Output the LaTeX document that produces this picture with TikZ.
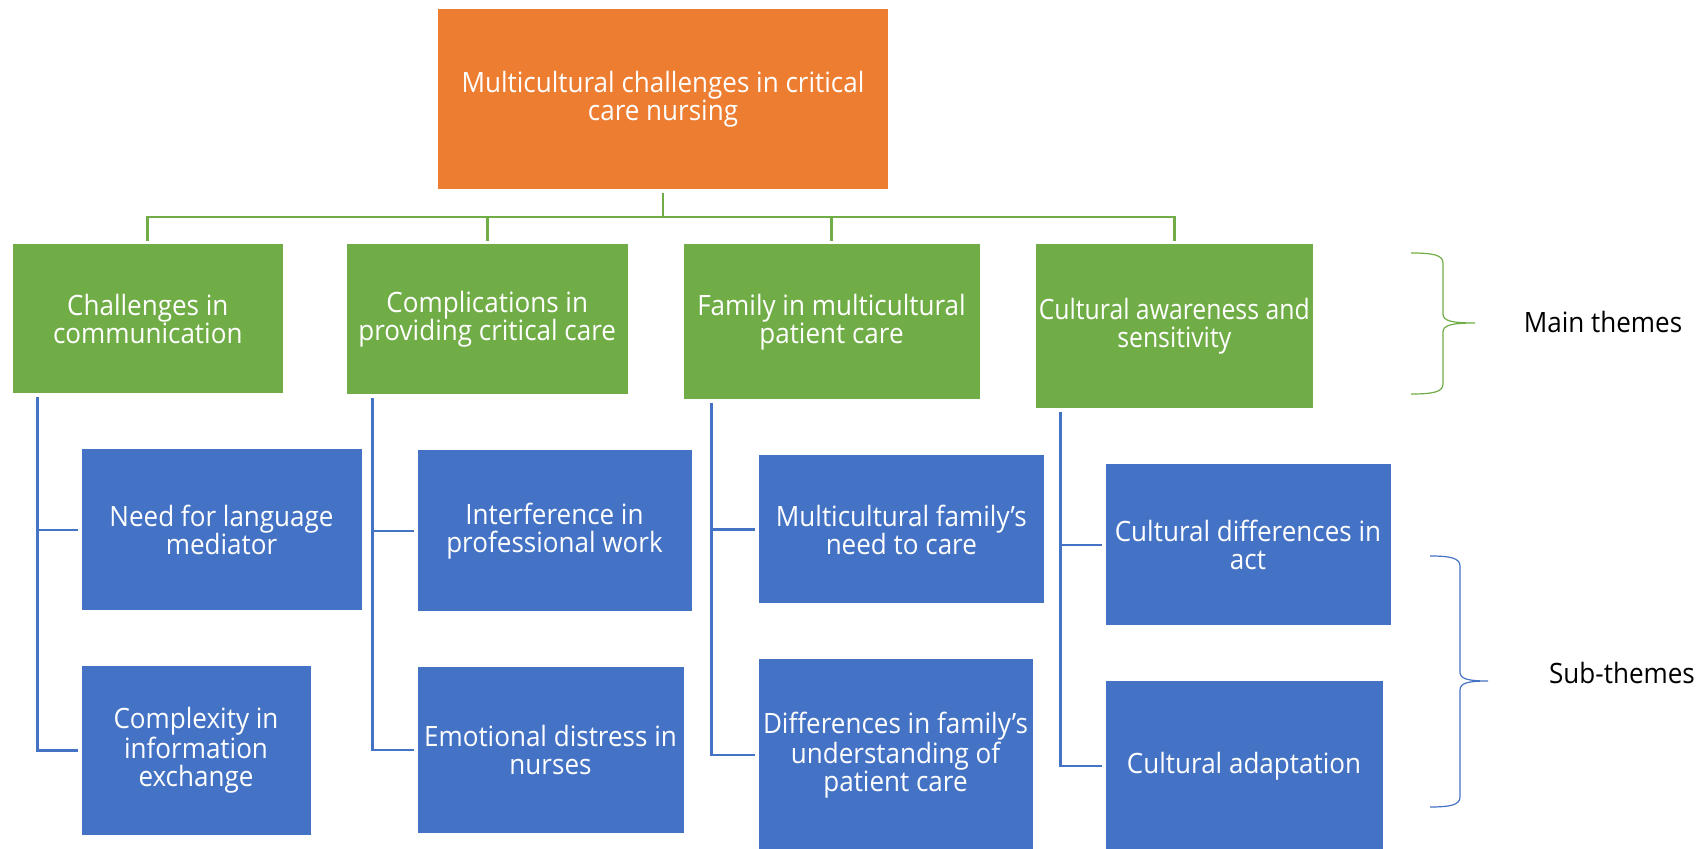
\documentclass[tikz,border=0pt]{standalone}
\usepackage{fontspec}
\setmainfont{Open Sans}[FakeStretch=0.93]
\newfontfamily\narrowsans{Open Sans}[FakeStretch=0.885]
\definecolor{topcol}{HTML}{ED7D31}
\definecolor{themecol}{HTML}{70AD47}
\definecolor{subcol}{HTML}{4472C4}
\begin{document}
\begin{tikzpicture}[x=0.5pt,y=-0.5pt,
  card/.style={draw=white, line width=0.5pt, inner sep=0pt, align=center,
    text=white, font=\fontsize{14pt}{14pt}\selectfont},
  topbox/.style={card, fill=topcol},
  themebox/.style={card, fill=themecol},
  subbox/.style={card, fill=subcol},
  gconn/.style={draw=themecol, line width=1.3pt},
  bconn/.style={draw=subcol, line width=1.3pt, shorten >=1.5pt},
  gbrace/.style={draw=themecol, line width=0.6pt},
  bbrace/.style={draw=subcol, line width=0.6pt},
  tag/.style={font=\fontsize{14pt}{14pt}\selectfont, text=black, inner sep=0pt, anchor=base}]
\useasboundingbox (0,0) rectangle (1698,849);

% root
\node[topbox, minimum width=225.5pt, minimum height=90.5pt] (O) at (663,99)
  {Multicultural challenges in critical\\care nursing};

% main themes
\node[themebox, minimum width=135.25pt, minimum height=75pt] (G1) at (147.75,319)
  {Challenges in\\communication};
\node[themebox, minimum width=141.25pt, minimum height=75.5pt] (G2) at (487.25,319.5)
  {Complications in\\providing critical care};
\node[themebox, minimum width=148.5pt, minimum height=78pt] (G3) at (831.5,322)
  {Family in multicultural\\patient care};
\node[themebox, minimum width=139.25pt, minimum height=82.5pt,
  font=\fontsize{14pt}{14pt}\narrowsans] (G4) at (1174.25,326.5)
  {Cultural awareness and\\sensitivity};

% sub-themes
\node[subbox, minimum width=140.5pt, minimum height=81pt] (B1a) at (221.5,530)
  {Need for language\\mediator};
\node[subbox, minimum width=115pt, minimum height=84.5pt] (B1b) at (196,750.5)
  {Complexity in\\information\\exchange};
\node[subbox, minimum width=137.5pt, minimum height=81pt] (B2a) at (554.5,531)
  {Interference in\\professional work};
\node[subbox, minimum width=133.5pt, minimum height=83pt] (B2b) at (550.5,750)
  {Emotional distress in\\nurses};
\node[subbox, minimum width=143.35pt, minimum height=74.5pt] (B3a) at (901.35,529.5)
  {Multicultural family’s\\need to care};
\node[subbox, minimum width=137.5pt, minimum height=96pt] (B3b) at (895.5,755)
  {Differences in family’s\\understanding of\\patient care};
\node[subbox, minimum width=143pt, minimum height=81pt] (B4a) at (1248,545)
  {Cultural differences in\\act};
\node[subbox, minimum width=139pt, minimum height=85pt] (B4b) at (1244,766)
  {Cultural adaptation};

% root to themes
\coordinate (bar) at (663,217);
\draw[gconn] ([yshift=-1.5pt]O.south) -- (bar);
\foreach \g in {G1,G2,G3,G4}
  \draw[gconn, shorten >=1pt] (bar) -| (\g.north);

% themes to sub-themes
\draw[bconn] ([xshift=12.75pt,yshift=-1.5pt]G1.south west) |- (B1a.west);
\draw[bconn] ([xshift=12.75pt,yshift=-1.5pt]G1.south west) |- (B1b.west);
\draw[bconn] ([xshift=13.5pt,yshift=-1.5pt]G2.south west) |- (B2a.west);
\draw[bconn] ([xshift=13.5pt,yshift=-1.5pt]G2.south west) |- (B2b.west);
\draw[bconn] ([xshift=14.5pt,yshift=-1.5pt]G3.south west) |- (B3a.west);
\draw[bconn] ([xshift=14.5pt,yshift=-1.5pt]G3.south west) |- (B3b.west);
\draw[bconn] ([xshift=13pt,yshift=-1.5pt]G4.south west) |- (B4a.west);
\draw[bconn] ([xshift=13pt,yshift=-1.5pt]G4.south west) |- (B4b.west);

% braces
\draw[gbrace] (1411,253) .. controls (1433,253) and (1443,255) .. (1443,263)
  -- (1443,314) .. controls (1443,321) and (1452,323) .. (1475,323)
  .. controls (1452,323) and (1443,325) .. (1443,332)
  -- (1443,384) .. controls (1443,392) and (1433,394) .. (1411,394);
\draw[bbrace] (1430,556) .. controls (1450,556) and (1460,558) .. (1460,566)
  -- (1460,672) .. controls (1460,679) and (1468,681) .. (1488,681)
  .. controls (1468,681) and (1460,683) .. (1460,690)
  -- (1460,797) .. controls (1460,805) and (1450,807) .. (1430,807);

% labels
\node[tag] (mainlbl) at (1603,333) {Main themes};
\node[tag] (sublbl) at (1622,683) {Sub-themes};
\end{tikzpicture}
\end{document}
